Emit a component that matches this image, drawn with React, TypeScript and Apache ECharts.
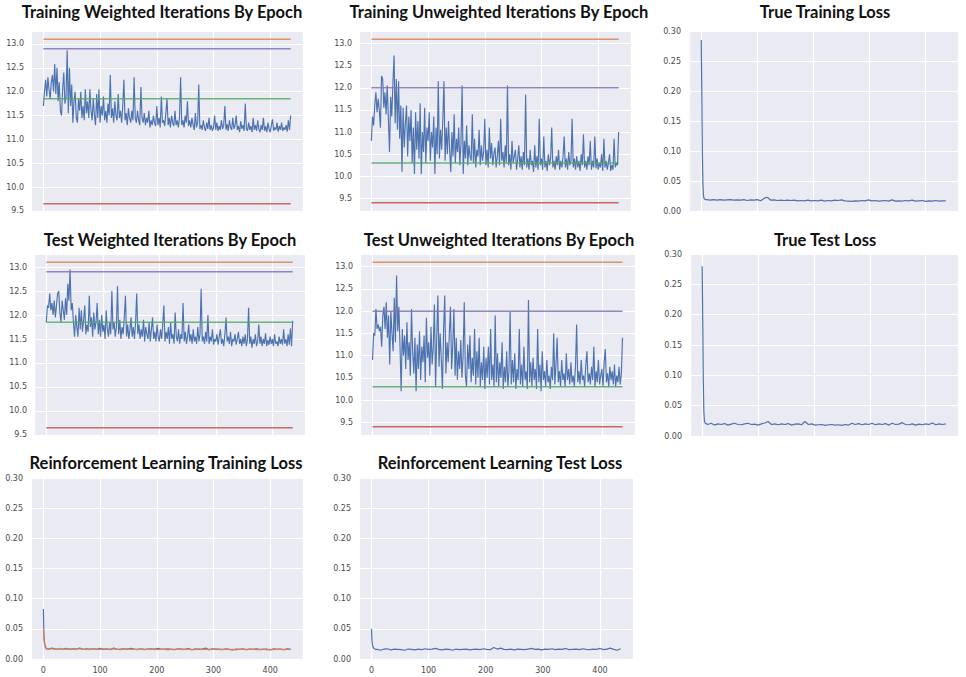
import React, { useEffect, useRef } from "react";
import * as echarts from "echarts";

// ---------- data ----------
// iteration curves are sampled every 2 epochs (0..436)
const iterEpochs: number[] = Array.from({ length: 219 }, (_, i) => i * 2);

const trainWeighted = [
  11.70, 12.00, 12.25, 11.90, 12.30, 12.05, 11.85, 12.20, 12.35, 12.00,
  12.58, 11.95, 12.50, 11.80, 12.20, 11.60, 11.50, 12.05, 12.40, 11.75,
  11.90, 12.87, 11.55, 12.50, 11.70, 12.15, 11.35, 11.80, 12.00, 11.45,
  11.35, 11.85, 11.60, 12.00, 11.45, 11.70, 11.40, 12.05, 11.55, 11.80,
  11.45, 12.05, 11.60, 11.40, 11.85, 11.50, 11.30, 11.95, 11.45, 12.05,
  11.35, 11.70, 11.50, 11.90, 11.40, 11.60, 11.35, 11.75, 11.50, 12.35,
  11.45, 11.65, 11.35, 11.80, 11.50, 11.40, 11.95, 11.45, 11.60, 11.35,
  11.70, 12.25, 11.40, 11.55, 11.30, 11.65, 11.45, 11.35, 11.60, 11.40,
  12.30, 11.45, 11.35, 11.60, 11.40, 11.30, 12.10, 11.45, 11.35, 11.55,
  11.30, 11.45, 11.35, 11.60, 11.25, 11.40, 11.30, 11.50, 11.35, 11.28,
  11.70, 11.30, 11.45, 11.25, 11.90, 11.35, 11.40, 11.28, 11.55, 11.85,
  11.30, 11.45, 11.25, 11.50, 11.35, 11.28, 11.60, 11.30, 11.40, 11.25,
  11.45, 12.30, 11.30, 11.40, 11.25, 11.50, 11.35, 11.80, 11.28, 11.40,
  11.25, 11.45, 11.30, 11.20, 11.55, 11.25, 11.35, 12.15, 11.22, 11.30,
  11.20, 11.40, 11.25, 11.18, 11.35, 11.22, 11.45, 11.20, 11.30, 11.18,
  11.25, 11.50, 11.20, 11.35, 11.18, 11.28, 11.20, 11.40, 11.22, 11.30,
  11.70, 11.20, 11.32, 11.18, 11.40, 11.25, 11.20, 11.45, 11.22, 11.30,
  11.50, 11.20, 11.28, 11.15, 11.38, 11.22, 11.30, 11.18, 11.75, 11.22,
  11.18, 11.35, 11.20, 11.28, 11.15, 11.45, 11.20, 11.30, 11.18, 11.40,
  11.22, 11.15, 11.30, 11.20, 11.45, 11.18, 11.28, 11.15, 11.35, 11.22,
  11.15, 11.30, 11.42, 11.18, 11.25, 11.20, 11.35, 11.16, 11.28, 11.20,
  11.35, 11.18, 11.25, 11.20, 11.30, 11.16, 11.40, 11.20, 11.50,
];

const trainUnweighted = [
  10.80, 11.35, 11.15, 11.60, 11.90, 11.45, 11.75, 11.50, 11.10, 12.27,
  12.20, 11.55, 11.90, 11.40, 12.05, 11.30, 10.55, 11.80, 11.35, 12.10,
  12.73, 11.20, 12.20, 11.05, 12.15, 10.85, 11.60, 10.10, 11.55, 10.65,
  11.20, 11.60, 10.45, 11.35, 10.80, 11.50, 10.30, 11.10, 10.05, 11.45,
  10.60, 11.25, 10.40, 11.65, 10.05, 11.00, 10.55, 11.55, 10.30, 11.10,
  10.80, 11.45, 10.35, 11.00, 10.65, 11.35, 10.05, 11.10, 10.50, 12.15,
  10.40, 11.05, 10.60, 11.30, 12.15, 10.35, 11.10, 10.50, 11.25, 10.60,
  10.10, 11.00, 10.45, 11.40, 10.30, 10.85, 10.55, 11.10, 10.25, 10.75,
  12.05, 10.05, 10.80, 10.40, 11.15, 10.25, 10.70, 10.45, 10.35, 11.40,
  10.30, 10.85, 10.20, 10.60, 10.45, 11.05, 10.25, 10.70, 10.35, 10.55,
  11.30, 10.25, 10.60, 10.20, 11.10, 10.40, 10.75, 10.25, 10.50, 10.65,
  10.20, 10.45, 10.80, 10.25, 11.30, 10.35, 10.55, 10.20, 10.70, 10.30,
  12.05, 10.25, 10.50, 10.15, 10.80, 10.30, 10.45, 10.60, 10.15, 10.40,
  10.70, 10.20, 10.45, 10.15, 10.55, 10.25, 11.85, 10.20, 10.40, 10.15,
  10.60, 10.25, 10.35, 10.10, 10.70, 10.20, 10.45, 10.15, 11.30, 10.25,
  10.40, 10.15, 10.90, 10.20, 10.35, 10.12, 10.50, 10.25, 10.40, 11.10,
  10.20, 10.35, 10.15, 10.45, 10.25, 10.60, 10.15, 10.35, 10.20, 10.45,
  10.90, 10.20, 10.40, 10.15, 10.55, 10.25, 10.35, 11.30, 10.20, 10.40,
  10.15, 10.45, 10.20, 10.35, 10.12, 10.50, 10.25, 10.95, 10.20, 10.35,
  10.15, 10.45, 10.25, 10.80, 10.15, 10.35, 10.20, 10.90, 10.18, 10.40,
  10.15, 10.30, 10.20, 10.50, 10.12, 10.85, 10.20, 10.35, 10.15, 10.30,
  10.50, 10.12, 10.25, 10.15, 10.85, 10.20, 10.30, 10.25, 11.00,
];

const testWeighted = [
  11.85, 12.20, 12.15, 12.45, 12.10, 12.25, 12.00, 12.30, 11.95, 12.20,
  12.45, 12.50, 12.05, 11.85, 12.30, 12.10, 11.90, 12.35, 12.00, 12.65,
  12.30, 12.95, 12.10, 12.25, 11.85, 11.55, 12.00, 11.75, 11.55, 12.15,
  11.70, 12.10, 11.65, 11.90, 12.20, 11.60, 11.80, 11.65, 12.40, 11.75,
  11.95, 11.55, 12.05, 11.70, 11.85, 12.25, 11.60, 11.90, 11.55, 12.00,
  11.65, 11.80, 11.50, 12.10, 11.70, 11.55, 11.85, 11.60, 12.50, 11.70,
  11.85, 11.55, 11.75, 12.60, 11.60, 11.90, 11.50, 11.75, 11.60, 11.95,
  12.40, 11.55, 11.80, 11.50, 11.70, 11.95, 11.55, 11.75, 11.50, 11.85,
  12.45, 11.60, 11.80, 11.50, 11.70, 11.55, 11.90, 11.45, 11.75, 11.60,
  11.50, 11.85, 11.45, 11.70, 11.95, 11.50, 11.65, 11.45, 11.80, 11.55,
  11.45, 11.70, 11.50, 11.80, 12.20, 11.45, 11.65, 11.50, 11.75, 11.40,
  11.85, 11.50, 11.60, 11.40, 12.05, 11.55, 11.45, 11.70, 11.40, 11.60,
  11.50, 12.25, 11.45, 11.65, 11.40, 11.55, 11.80, 11.45, 11.60, 11.40,
  11.70, 11.45, 11.55, 11.40, 11.75, 11.45, 11.60, 12.55, 11.45, 11.55,
  11.40, 11.65, 11.45, 12.00, 11.40, 11.55, 11.45, 11.70, 11.38, 11.50,
  11.45, 11.60, 11.38, 11.55, 11.70, 11.40, 11.50, 11.35, 11.60, 11.95,
  11.45, 11.55, 11.40, 11.65, 11.35, 11.50, 11.45, 11.60, 11.38, 11.50,
  11.65, 11.40, 11.50, 11.35, 11.55, 11.40, 11.60, 11.35, 11.50, 12.15,
  11.40, 11.55, 11.32, 11.50, 11.40, 11.60, 11.35, 11.45, 11.80, 11.40,
  11.55, 11.35, 11.50, 11.40, 11.62, 11.35, 11.48, 11.38, 11.55, 11.40,
  11.50, 11.35, 11.60, 11.40, 11.45, 11.35, 11.55, 11.40, 11.50, 11.38,
  11.70, 11.40, 11.50, 11.35, 11.60, 11.38, 11.72, 11.35, 11.88,
];

const testUnweighted = [
  10.90, 11.50, 11.45, 12.05, 11.60, 11.70, 11.55, 11.65, 11.20, 11.90,
  12.10, 11.60, 12.20, 11.40, 11.90, 10.80, 12.00, 11.50, 11.10, 12.30,
  11.30, 12.80, 11.55, 12.10, 11.20, 10.20, 11.60, 11.00, 11.45, 10.70,
  11.75, 10.90, 11.30, 10.55, 12.05, 11.10, 10.60, 11.40, 10.20, 11.25,
  10.70, 11.55, 10.45, 11.20, 10.85, 11.45, 10.40, 11.85, 10.95, 11.30,
  10.55, 11.65, 10.80, 11.20, 12.15, 10.30, 11.40, 12.35, 10.75, 11.50,
  10.90, 10.25, 11.60, 12.35, 10.60, 11.30, 10.85, 11.50, 12.10, 10.70,
  11.25, 12.05, 10.55, 11.40, 10.45, 11.10, 10.70, 11.35, 10.50, 11.00,
  12.20, 10.55, 10.30, 11.25, 10.70, 11.45, 10.40, 10.95, 10.55, 11.60,
  10.35, 11.10, 10.50, 11.40, 10.30, 10.85, 10.45, 11.20, 10.25, 10.95,
  10.50, 11.20, 10.35, 11.60, 10.45, 10.80, 10.30, 11.90, 10.40, 11.05,
  10.30, 10.85, 10.50, 11.30, 10.25, 10.75, 10.40, 11.10, 10.30, 10.65,
  12.00, 10.35, 10.90, 10.40, 11.05, 10.25, 10.70, 10.45, 11.60, 10.35,
  10.80, 10.30, 11.20, 10.45, 10.65, 10.25, 12.25, 10.40, 10.85, 10.30,
  10.95, 10.45, 10.70, 10.25, 11.60, 10.40, 10.80, 10.20, 11.10, 10.45,
  10.65, 10.30, 10.90, 10.40, 10.55, 10.25, 10.75, 10.45, 11.50, 10.35,
  10.80, 11.40, 10.40, 10.65, 10.30, 10.90, 10.45, 10.60, 10.30, 11.05,
  10.45, 10.70, 10.35, 10.85, 10.40, 10.55, 10.30, 10.75, 11.70, 10.40,
  10.65, 10.35, 10.90, 10.45, 10.55, 10.30, 10.80, 11.10, 10.40, 10.60,
  10.35, 10.75, 10.45, 11.20, 10.30, 10.65, 10.40, 10.90, 10.35, 10.55,
  10.70, 10.30, 10.85, 11.15, 10.40, 10.60, 10.30, 10.75, 10.45, 10.65,
  10.35, 10.80, 10.30, 10.55, 10.40, 10.75, 10.35, 10.60, 11.40,
];

// reference levels: orange, purple, green, red
const weightedRefLevels = [13.10, 12.90, 11.85, 9.65];
const unweightedRefLevels = [13.10, 12.00, 10.30, 9.40];
const refColors = ["#DD8452", "#8172B3", "#55A868", "#C44E52"];

// loss curves
const lossEpochs = [
  0, 1, 2, 3, 4, 5, 6, 8,
  10, 16, 22, 28, 34, 40, 46, 52, 58, 64, 70, 76,
  82, 88, 94, 100, 106, 112, 118, 124, 130, 136, 142, 148,
  154, 160, 166, 172, 178, 184, 190, 196, 202, 208, 214, 220,
  226, 232, 238, 244, 250, 256, 262, 268, 274, 280, 286, 292,
  298, 304, 310, 316, 322, 328, 334, 340, 346, 352, 358, 364,
  370, 376, 382, 388, 394, 400, 406, 412, 418, 424, 430, 436,
];

const trueTrainLoss = [
  0.285, 0.2, 0.1, 0.045, 0.026, 0.021, 0.02, 0.019,
  0.019, 0.018, 0.019, 0.018, 0.019, 0.018, 0.0185, 0.019, 0.018, 0.0185, 0.018, 0.019,
  0.0175, 0.0185, 0.018, 0.019, 0.017, 0.021, 0.023, 0.018, 0.0185, 0.0175, 0.018, 0.0175,
  0.018, 0.0175, 0.018, 0.017, 0.0175, 0.017, 0.018, 0.017, 0.0175, 0.017, 0.018, 0.0165,
  0.0175, 0.017, 0.018, 0.0175, 0.0185, 0.017, 0.0165, 0.016, 0.017, 0.0165, 0.0175, 0.017,
  0.0185, 0.017, 0.0175, 0.0165, 0.017, 0.0175, 0.0165, 0.0185, 0.0165, 0.017, 0.0165, 0.0175,
  0.017, 0.018, 0.0165, 0.017, 0.0175, 0.016, 0.017, 0.0165, 0.0175, 0.0165, 0.017, 0.017,
];

const trueTestLoss = [
  0.28, 0.19, 0.09, 0.04, 0.025, 0.022, 0.021, 0.02,
  0.019, 0.021, 0.018, 0.02, 0.019, 0.0205, 0.018, 0.0195, 0.021, 0.019, 0.0185, 0.02,
  0.021, 0.019, 0.0195, 0.018, 0.02, 0.0215, 0.024, 0.019, 0.02, 0.0185, 0.02, 0.019,
  0.0205, 0.018, 0.0195, 0.02, 0.0185, 0.024, 0.019, 0.02, 0.018, 0.0185, 0.019, 0.0175,
  0.0185, 0.019, 0.018, 0.0185, 0.0175, 0.019, 0.018, 0.021, 0.019, 0.0205, 0.0185, 0.02,
  0.019, 0.021, 0.0185, 0.02, 0.019, 0.0205, 0.018, 0.021, 0.019, 0.0195, 0.022, 0.019,
  0.0185, 0.02, 0.018, 0.0195, 0.0185, 0.02, 0.019, 0.0215, 0.0185, 0.02, 0.019, 0.02,
];

const rlTrainLossBlue = [
  0.083, 0.04, 0.028, 0.022, 0.02, 0.018, 0.017, 0.016,
  0.017, 0.018, 0.016, 0.017, 0.016, 0.0175, 0.016, 0.017, 0.0165, 0.018, 0.016, 0.017,
  0.0165, 0.017, 0.016, 0.0175, 0.016, 0.017, 0.0155, 0.018, 0.016, 0.0165, 0.017, 0.016,
  0.0175, 0.0165, 0.016, 0.017, 0.0155, 0.0165, 0.017, 0.016, 0.0175, 0.016, 0.0165, 0.017,
  0.016, 0.0155, 0.017, 0.0165, 0.016, 0.0175, 0.015, 0.017, 0.016, 0.0165, 0.018, 0.0155,
  0.017, 0.016, 0.0165, 0.0155, 0.017, 0.016, 0.015, 0.0165, 0.016, 0.017, 0.0155, 0.0165,
  0.016, 0.017, 0.0155, 0.016, 0.0165, 0.015, 0.017, 0.016, 0.0165, 0.0155, 0.017, 0.016,
];

const rlTrainLossOrange = [
  0.05, 0.032, 0.024, 0.02, 0.018, 0.017, 0.0165, 0.016,
  0.0165, 0.017, 0.016, 0.0175, 0.016, 0.0165, 0.017, 0.016, 0.0165, 0.017, 0.016, 0.0165,
  0.0155, 0.017, 0.0165, 0.016, 0.017, 0.016, 0.0165, 0.017, 0.016, 0.0155, 0.0165, 0.017,
  0.016, 0.0165, 0.0155, 0.017, 0.016, 0.0165, 0.016, 0.017, 0.0155, 0.0165, 0.016, 0.015,
  0.0165, 0.016, 0.017, 0.0155, 0.016, 0.0165, 0.016, 0.0155, 0.017, 0.016, 0.0165, 0.0155,
  0.016, 0.017, 0.0155, 0.016, 0.0165, 0.0155, 0.016, 0.015, 0.0165, 0.016, 0.0155, 0.0165,
  0.016, 0.0155, 0.016, 0.0165, 0.015, 0.016, 0.0155, 0.0165, 0.016, 0.0155, 0.016, 0.0165,
];

const rlTestLoss = [
  0.05, 0.03, 0.022, 0.019, 0.018, 0.017, 0.0165, 0.016,
  0.016, 0.0145, 0.0165, 0.017, 0.015, 0.0165, 0.016, 0.0155, 0.0145, 0.0165, 0.016, 0.015,
  0.0165, 0.0155, 0.017, 0.016, 0.0165, 0.0175, 0.016, 0.015, 0.0165, 0.016, 0.0145, 0.0165,
  0.0155, 0.016, 0.0165, 0.015, 0.016, 0.0165, 0.0155, 0.017, 0.016, 0.0155, 0.019, 0.0165,
  0.018, 0.016, 0.0155, 0.0165, 0.015, 0.0165, 0.016, 0.0155, 0.0165, 0.0175, 0.016, 0.0165,
  0.015, 0.0165, 0.016, 0.017, 0.0155, 0.0165, 0.016, 0.0175, 0.0155, 0.016, 0.0165, 0.0155,
  0.017, 0.016, 0.0155, 0.0165, 0.016, 0.0175, 0.0155, 0.0165, 0.018, 0.016, 0.0145, 0.017,
];

const titles = [
  "Training Weighted Iterations By Epoch",
  "Training Unweighted Iterations By Epoch",
  "True Training Loss",
  "Test Weighted Iterations By Epoch",
  "Test Unweighted Iterations By Epoch",
  "True Test Loss",
  "Reinforcement Learning Training Loss",
  "Reinforcement Learning Test Loss",
];

// ---------- layout ----------
const BLUE = "#4C72B0";
const ORANGE = "#DD8452";

type Layout = { left: number; top: number; width: number; height: number; tx: number; ty: number };
const layouts: Layout[] = [
  { left: 31, top: 31, width: 272, height: 181, tx: 162, ty: 12 },
  { left: 359, top: 31, width: 272, height: 180, tx: 499, ty: 12 },
  { left: 689, top: 31, width: 269, height: 180, tx: 825, ty: 12 },
  { left: 34, top: 254, width: 271, height: 182, tx: 170, ty: 240 },
  { left: 360, top: 254, width: 275, height: 181, tx: 499, ty: 240 },
  { left: 690, top: 254, width: 268, height: 182, tx: 825, ty: 240 },
  { left: 31, top: 478, width: 272, height: 181, tx: 166, ty: 463 },
  { left: 359, top: 478, width: 274, height: 181, tx: 500, ty: 463 },
];

const pairs = (xs: number[], ys: number[]) => ys.map((y, i) => [xs[i], y]);

function buildOption() {
  const grid: any[] = [];
  const xAxis: any[] = [];
  const yAxis: any[] = [];
  const series: any[] = [];
  const graphic: any[] = [];

  const labelStyle = { fontSize: 8, color: "#4a4a4a", fontFamily: "DejaVu Sans" };
  const splitLine = { show: true, lineStyle: { color: "#ffffff", width: 1.2 } };

  const iterPanels: Record<number, { data: number[]; refs: number[] }> = {
    0: { data: trainWeighted, refs: weightedRefLevels },
    1: { data: trainUnweighted, refs: unweightedRefLevels },
    3: { data: testWeighted, refs: weightedRefLevels },
    4: { data: testUnweighted, refs: unweightedRefLevels },
  };
  const lossPanels: Record<number, { data: number[]; color: string }[]> = {
    2: [{ data: trueTrainLoss, color: BLUE }],
    5: [{ data: trueTestLoss, color: BLUE }],
    6: [
      { data: rlTrainLossBlue, color: BLUE },
      { data: rlTrainLossOrange, color: ORANGE },
    ],
    7: [{ data: rlTestLoss, color: BLUE }],
  };

  layouts.forEach((L, i) => {
    grid.push({
      left: L.left,
      top: L.top,
      width: L.width,
      height: L.height,
      show: true,
      backgroundColor: "#EAEAF2",
      borderWidth: 0,
      containLabel: false,
      outerBoundsMode: "none",
    });
    const showX = i >= 6;
    xAxis.push({
      type: "value",
      gridIndex: i,
      min: (v: any) => v.min - 0.05 * (v.max - v.min),
      max: (v: any) => v.max + 0.05 * (v.max - v.min),
      minInterval: 100,
      maxInterval: 100,
      axisLine: { show: false },
      axisTick: { show: false },
      axisLabel: { show: showX, showMinLabel: false, showMaxLabel: false, margin: 7, ...labelStyle },
      splitLine,
    });

    const iter = iterPanels[i];
    if (iter) {
      yAxis.push({
        type: "value",
        gridIndex: i,
        min: (v: any) => v.min - 0.05 * (v.max - v.min),
        max: (v: any) => v.max + 0.05 * (v.max - v.min),
        minInterval: 0.5,
        maxInterval: 0.5,
        axisLine: { show: false },
        axisTick: { show: false },
        axisLabel: {
          showMinLabel: false,
          showMaxLabel: false,
          margin: 7,
          formatter: (v: number) => v.toFixed(1),
          ...labelStyle,
        },
        splitLine,
      });
      series.push({
        type: "line",
        xAxisIndex: i,
        yAxisIndex: i,
        data: pairs(iterEpochs, iter.data),
        symbol: "none",
        lineStyle: { color: BLUE, width: 1.15 },
        silent: true,
      });
      const x0 = iterEpochs[0];
      const x1 = iterEpochs[iterEpochs.length - 1];
      iter.refs.forEach((lv, k) => {
        series.push({
          type: "line",
          xAxisIndex: i,
          yAxisIndex: i,
          data: [
            [x0, lv],
            [x1, lv],
          ],
          symbol: "none",
          lineStyle: { color: refColors[k], width: 1.5, opacity: 0.85 },
          silent: true,
        });
      });
    } else {
      yAxis.push({
        type: "value",
        gridIndex: i,
        min: 0,
        max: 0.3,
        interval: 0.05,
        axisLine: { show: false },
        axisTick: { show: false },
        axisLabel: { margin: 8, formatter: (v: number) => v.toFixed(2), ...labelStyle },
        splitLine,
      });
      (lossPanels[i] || []).forEach((s) => {
        series.push({
          type: "line",
          xAxisIndex: i,
          yAxisIndex: i,
          data: pairs(lossEpochs, s.data),
          symbol: "none",
          lineStyle: { color: s.color, width: 1.2 },
          silent: true,
        });
      });
    }

    graphic.push({
      type: "text",
      x: L.tx,
      y: L.ty,
      style: {
        text: titles[i],
        textAlign: "center",
        textVerticalAlign: "middle",
        font: "bold 16.5px Lato",
        fill: "#111",
      },
      silent: true,
    });
  });

  return {
    animation: false,
    backgroundColor: "#ffffff",
    grid,
    xAxis,
    yAxis,
    series,
    graphic,
  };
}

export default function App() {
  const ref = useRef<HTMLDivElement>(null);
  useEffect(() => {
    if (!ref.current) return;
    const chart = echarts.init(ref.current, undefined, { renderer: "svg" });
    chart.setOption(buildOption() as any);
    return () => chart.dispose();
  }, []);
  return (
    <div
      ref={ref}
      style={{ position: "fixed", left: 0, top: 0, width: 966, height: 677, background: "#fff" }}
    />
  );
}
